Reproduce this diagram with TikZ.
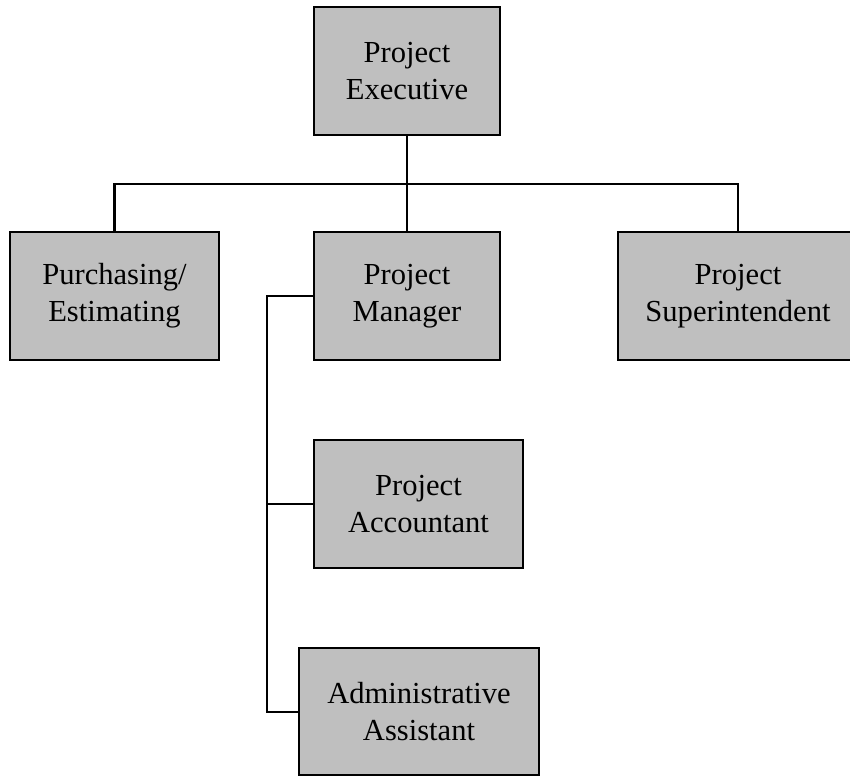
\documentclass[tikz,border=0pt]{standalone}
\usepackage{fontspec}
\setmainfont{Liberation Serif}
\begin{document}
\begin{tikzpicture}[
  post/.style = {shape=rectangle, draw, fill=gray!50, line width=1.15pt,
    align=center, minimum height=2.56cm, inner sep=2pt,
    font=\fontsize{17.4}{21}\selectfont},
  link/.style = {line width=1.15pt}
  ]
  \useasboundingbox (0,0) rectangle (17,-15.52);
  % top of the chart
  \node[post, minimum width=3.72cm] (exec) at (8.14,-1.42) {Project\\Executive};
  % second row
  \node[post, minimum width=4.18cm] (purch) at (2.29,-5.92) {Purchasing/\\Estimating};
  \node[post, minimum width=3.72cm] (mgr) at (8.14,-5.92) {Project\\Manager};
  \node[post, minimum width=4.8cm] (super) at (14.76,-5.92) {Project\\Superintendent};
  % staff under the manager
  \node[post, minimum width=4.18cm] (acct) at (8.37,-10.08) {Project\\Accountant};
  \node[post, minimum width=4.8cm, minimum height=2.54cm] (admin) at (8.38,-14.23) {Administrative\\Assistant};
  \coordinate (bar) at (0,-3.68);
  \coordinate (spine) at (5.34,0);
  \draw[link] (exec.south) -- (exec |- bar);
  \draw[link] (purch.north) -- (purch |- bar) -- (super |- bar) -- (super.north);
  \draw[link] (mgr.north) -- (mgr |- bar);
  \draw[link] (mgr.west) -- (spine |- mgr) -- (spine |- admin) -- (admin.west);
  \draw[link] (spine |- acct) -- (acct.west);
\end{tikzpicture}
\end{document}
